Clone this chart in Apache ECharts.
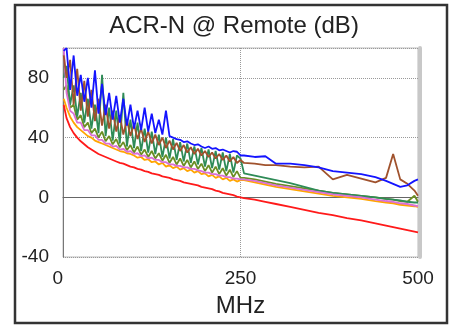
<!DOCTYPE html>
<html>
<head>
<meta charset="utf-8">
<script src="https://cdn.jsdelivr.net/npm/echarts@6/dist/echarts.min.js"></script>
<style>
  html, body { margin: 0; padding: 0; background: #fff; }
  #chart { width: 455px; height: 326px; }
</style>
</head>
<body>
<div id="chart"></div>
<script>
// frequencies (MHz), shared by every trace
var freq = [1, 5, 10, 15, 20, 25, 30, 35, 40, 45, 50, 55, 60, 65, 70, 75, 80, 85, 90, 95,
  100, 105, 110, 115, 120, 125, 130, 135, 140, 145, 150, 155, 160, 165, 170, 175, 180, 185, 190, 195,
  200, 205, 210, 215, 220, 225, 230, 235, 240, 245, 250,
  255, 270, 285, 300, 320, 340, 360, 380, 400, 420, 440, 455, 465, 475, 485, 495, 500];

var yTicks = [-40, 0, 40, 80];
var xTicks = [0, 250, 500];

// ACR-N traces (dB)
var pairOrange = [66, 60, 54, 50, 47, 45, 43, 41, 40, 38, 37, 36, 35, 34, 33, 32, 31, 30.5, 29.5, 29,
  28, 26.5, 27, 25, 25.5, 23.5, 24, 22, 23, 20.5, 21.5, 19.5, 20.5, 18.5, 19.5, 17.5, 18.5, 16.5, 17.5, 15.5,
  16, 14, 15, 13, 14, 12, 13, 11, 12, 10.5, 11.5,
  11.5, 10, 8.5, 7, 5.5, 4, 2.5, 1, 0, -1, -2.5, -3.5, -4, -5, -5.5, -6, -6.5];

var pairOlive = [72, 75, 60, 62, 52, 55, 47, 50, 43, 46, 40, 44, 37.5, 41, 35.5, 39, 33.5, 37, 31.5, 35,
  30, 34, 28.5, 32, 27, 31, 26, 29.5, 24.5, 28.5, 23, 27, 22, 26, 21, 25, 20, 24, 19, 22.5,
  17.5, 21.5, 16.5, 20.5, 15.5, 19.5, 14.5, 18.5, 13.5, 17.5, 13,
  13, 12, 10.5, 9, 7.5, 6, 4.5, 3, 2, 1, 0, -1, -1.5, -2.5, -3, 1, -3];

var pairGreen = [80, 88, 62, 75, 54, 70, 50, 66, 46, 62, 43, 82, 41, 60, 38, 58, 36, 70, 34, 52,
  33, 50, 31, 46, 30, 44, 29, 42, 27, 40, 26, 39, 25, 37, 24, 36, 23, 34, 22, 33,
  20.5, 32, 19.5, 31, 18.5, 30, 17.5, 29, 16.5, 28, 26,
  16, 14.5, 13, 11.5, 9.5, 7, 4.5, 3, 2, 1, 0, -1, -1.5, -2, -3, -3.5, -3.5];

var pairViolet = [100, 70, 58, 56, 50, 50, 45, 45, 41.5, 41.5, 38.5, 38.5, 36, 36, 34, 34.5, 32, 32.5, 30.5, 31,
  29, 29.5, 27.5, 28, 26, 26.5, 25, 25, 23.5, 23.5, 22, 22, 21, 21, 20, 20, 19, 19, 18, 17.5,
  16.5, 16.5, 15.5, 15.5, 14.5, 14.5, 13.5, 13.5, 12.5, 12.5, 12,
  12, 11, 9.5, 8, 6.5, 5, 3.5, 2, 1, 0, -1.5, -2.5, -3, -4, -4.5, -5.5, -6];

var pairBrown = [95, 80, 92, 62, 86, 58, 78, 54, 72, 51, 66, 48, 62, 46, 58, 44, 55, 42, 52, 41,
  49, 39, 46, 37, 44, 36, 42, 35, 40, 33, 38, 32, 36.5, 31, 35, 30, 33.5, 29, 32.5, 28,
  31, 27, 30, 26, 29, 25, 28, 24, 27, 23, 25,
  23, 22.5, 21.5, 21.5, 20.5, 20, 20.5, 12, 15, 12.5, 10, 13, 29, 12, 9, 4.5, 1];

var pairBlue = [98, 100, 72, 95, 68, 82, 64, 80, 60, 85, 56, 76, 55, 70, 52, 68, 50, 66, 48, 62,
  46, 58, 45, 60, 44, 56, 43, 52, 42, 58, 41, 40, 39, 38.5, 37, 37.5, 36, 35, 35.5, 34,
  33, 34, 32.5, 33, 31.5, 32, 31, 30, 31, 30.5, 28,
  28, 27, 27.5, 22.5, 22.5, 21.5, 20, 17.5, 16.5, 15.5, 13.5, 11, 9, 7, 8, 11, 12];

// limit line
var limit = [62, 53, 47, 43, 40, 37.5, 35.5, 33.5, 32, 30.5, 29, 28, 27, 26, 25, 24, 23, 22.5, 21.5, 20.5,
  20, 19, 18.5, 17.5, 17, 16, 15.5, 15, 14, 13.5, 13, 12, 11.5, 11, 10, 9.5, 9, 8.5, 8, 7,
  6.5, 6, 5.5, 4.5, 4, 3, 2.5, 2, 1.5, 0.5, 0,
  -0.5, -1.5, -3, -4.5, -6.5, -8.5, -10.5, -12, -14, -15.5, -17.5, -19, -20, -21, -22, -23, -23.5];

function pairs(vals) {
  return freq.map(function (f, i) { return [f, vals[i]]; });
}

var traces = [
  { name: 'orange', color: '#ffa500', data: pairOrange },
  { name: 'olive', color: '#6b8e23', data: pairOlive },
  { name: 'green', color: '#2e8b57', data: pairGreen },
  { name: 'violet', color: '#da70d6', data: pairViolet },
  { name: 'brown', color: '#a0522d', data: pairBrown },
  { name: 'blue', color: '#1414ff', data: pairBlue },
  { name: 'limit', color: '#ff1a1a', data: limit }
];

var chart = echarts.init(document.getElementById('chart'));

var option = {
  animation: false,
  backgroundColor: '#fff',
  title: {
    text: 'ACR-N @ Remote (dB)',
    left: 229,
    textAlign: 'center',
    top: 9,
    textStyle: { fontFamily: 'Liberation Sans', fontSize: 24, fontWeight: 'normal', color: '#222' }
  },
  graphic: [{
    type: 'rect',
    shape: { x: 15, y: 5, width: 432, height: 318 },
    style: { fill: 'none', stroke: '#333', lineWidth: 2.5 }
  }],
  grid: {
    left: 63, right: 37, top: 48, bottom: 69,
    show: true, borderColor: '#bbb', borderWidth: 1
  },
  xAxis: {
    type: 'value', min: 0, max: 500, interval: 250,
    name: 'MHz', nameLocation: 'middle', nameGap: 37,
    nameTextStyle: { fontFamily: 'Liberation Sans', fontSize: 24, color: '#222' },
    axisLine: { lineStyle: { color: '#666', width: 1 } },
    axisTick: { show: false },
    axisLabel: {
      fontFamily: 'Liberation Sans', fontSize: 19, color: '#222', margin: 12,
      alignMinLabel: 'right',
      formatter: function (v) { return xTicks.indexOf(v) >= 0 ? String(v) : ''; }
    },
    splitLine: { show: true, lineStyle: { color: '#999', type: 'dotted' } }
  },
  yAxis: [{
    type: 'value', min: -40, max: 100, interval: 40,
    axisLine: { show: true, lineStyle: { color: '#777', width: 1 } },
    axisTick: { show: false },
    axisLabel: {
      fontFamily: 'Liberation Sans', fontSize: 19, color: '#222', margin: 14,
      showMaxLabel: false,
      formatter: function (v) { return yTicks.indexOf(v) >= 0 ? String(v) : ''; }
    },
    splitLine: { show: true, lineStyle: { color: '#999', type: 'dotted' } }
  }, {
    type: 'value', min: -40, max: 100, position: 'right', offset: 2,
    axisLine: { show: true, lineStyle: { color: '#c8c8c8', width: 4 } },
    axisTick: { show: false },
    axisLabel: { show: false },
    splitLine: { show: false }
  }],
  series: traces.map(function (t) {
    return {
      name: t.name,
      type: 'line',
      data: pairs(t.data),
      showSymbol: false,
      symbol: 'none',
      lineStyle: { color: t.color, width: 1.8 },
      itemStyle: { color: t.color },
      clip: true
    };
  })
};

chart.setOption(option);
</script>
</body>
</html>
